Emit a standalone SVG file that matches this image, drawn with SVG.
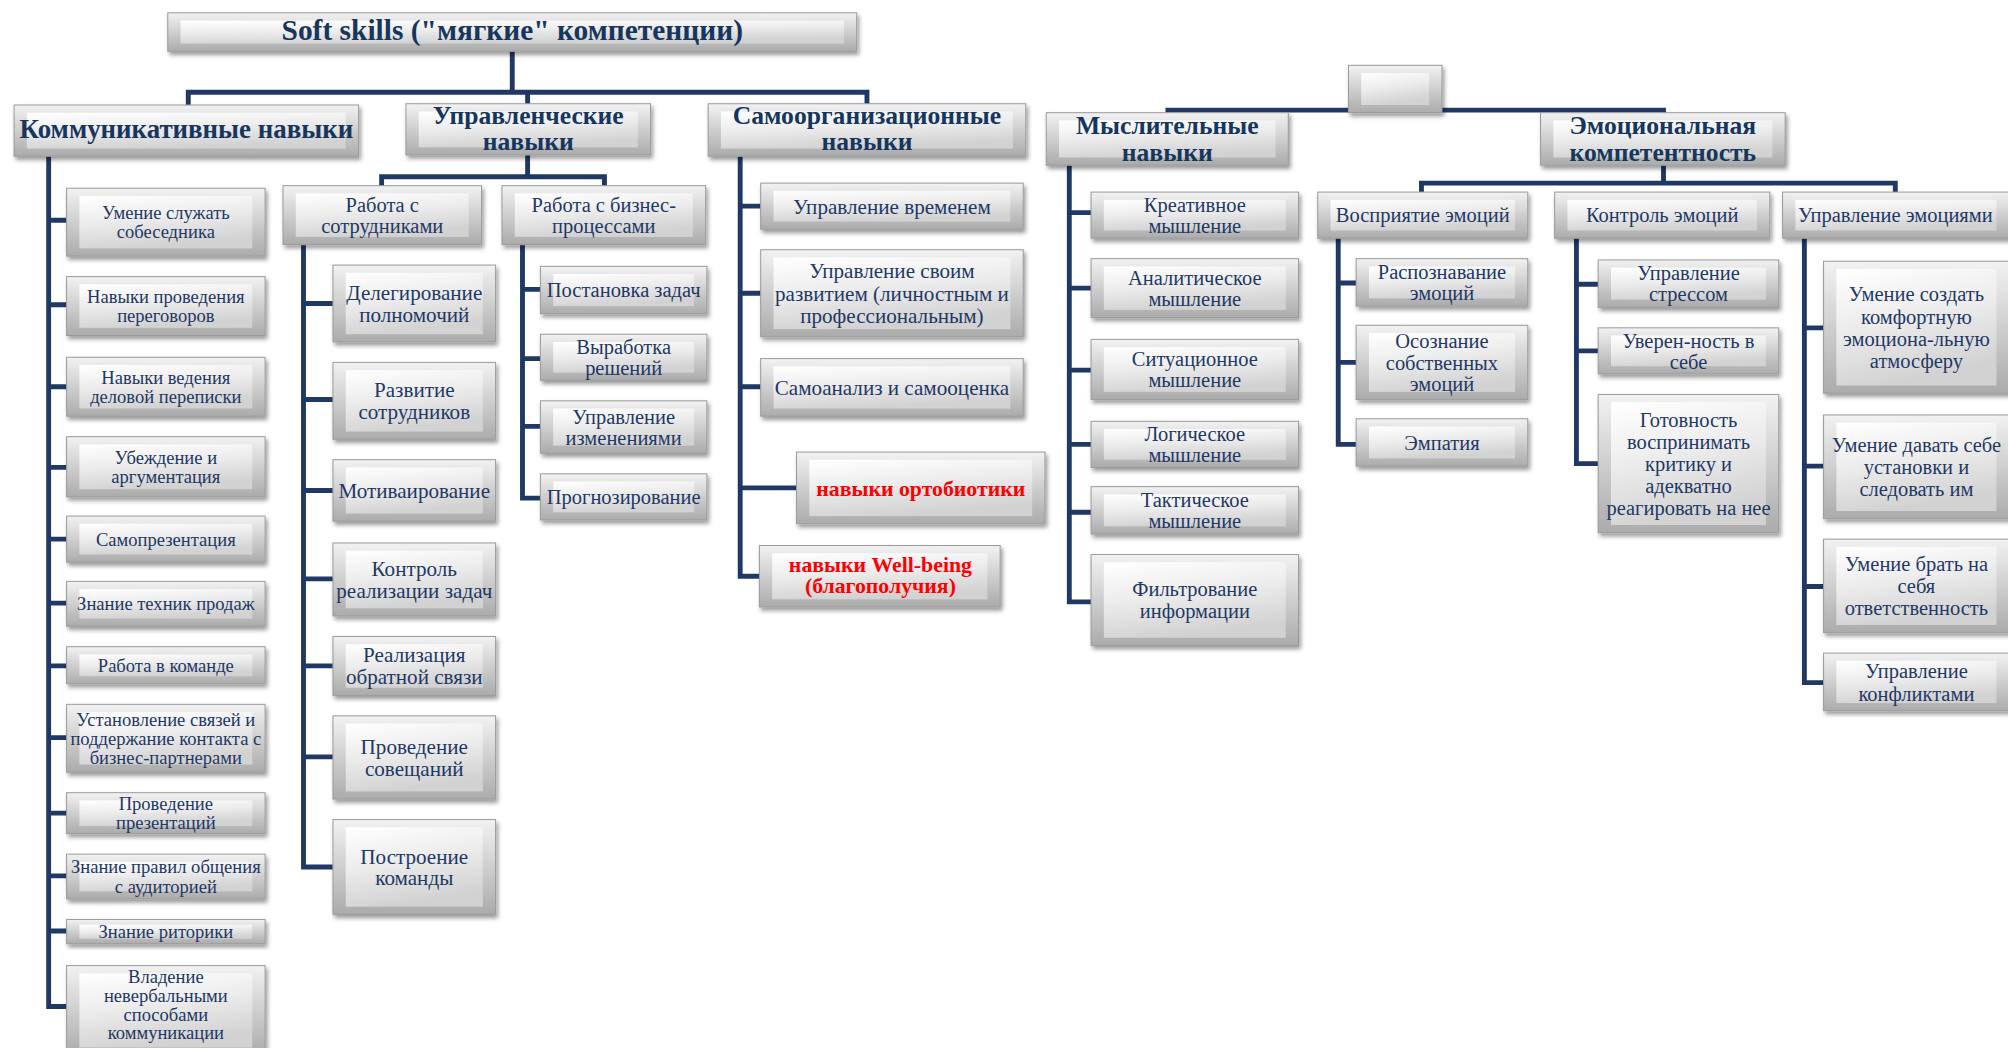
<svg xmlns="http://www.w3.org/2000/svg" width="2008" height="1048" viewBox="0 0 2008 1048">
<defs>
<filter id="sh" x="-10%" y="-15%" width="125%" height="140%"><feDropShadow dx="1.5" dy="2.5" stdDeviation="1.5" flood-color="#000" flood-opacity="0.4"/></filter>
<linearGradient id="gFrame" x1="0" y1="0" x2="0" y2="1"><stop offset="0" stop-color="#f2f2f2"/><stop offset="1" stop-color="#ababab"/></linearGradient>
<linearGradient id="gFace" x1="0" y1="0" x2="0.3" y2="1"><stop offset="0" stop-color="#ffffff"/><stop offset="0.5" stop-color="#ececec"/><stop offset="1" stop-color="#d2d2d2"/></linearGradient>
<style>
.o{fill:url(#gFrame);stroke:#9c9c9c;stroke-width:0.8;filter:url(#sh)}
.f{fill:url(#gFace)}
.c{fill:none;stroke:#1f3864;stroke-width:3.8;stroke-linejoin:miter}
text{font-family:"Liberation Serif","Times New Roman",serif;fill:#1f3864;text-anchor:middle}
.h{font-weight:bold;font-size:20px;fill:#17365d}
.ti{font-size:23px}
.k{font-size:14.5px}
.m{font-size:16px}
.n{font-size:16.5px}
.r{font-weight:bold;font-size:17px;fill:#ff0000}
</style>
</defs>
<rect x="0" y="0" width="2008" height="1048" fill="#ffffff"/>
<g transform="scale(1.2806)">
<g id="connectors">
<path class="c" d="M400,40V72 M147,84V72H677V82 M412,72V82"/>
<path class="c" d="M38,122V786H52 M38,172H52 M38,238H52 M38,302H52 M38,365H52 M38,421H52 M38,471H52 M38,520H52 M38,576H52 M38,635H52 M38,684H52 M38,727H52"/>
<path class="c" d="M412,121V138 M298,146V138H472V146"/>
<path class="c" d="M237,191V677H260 M237,237H260 M237,312H260 M237,383H260 M237,452H260 M237,520H260 M237,591H260"/>
<path class="c" d="M408,191V389H422 M408,226H422 M408,280H422 M408,333H422"/>
<path class="c" d="M578,122V450H593 M578,161H594 M578,229H594 M578,302H594 M578,381H622"/>
<path class="c" d="M912,88V86H1299V88"/>
<path class="c" d="M835,129V470H852 M835,166H852 M835,225H852 M835,289H852 M835,347H852 M835,400H852"/>
<path class="c" d="M1299,129V143 M1110,150V143H1480V150"/>
<path class="c" d="M1045,186V347H1059 M1045,221H1059 M1045,283H1059"/>
<path class="c" d="M1231,186V362H1248 M1231,222H1248 M1231,274H1248"/>
<path class="c" d="M1409,186V533H1424 M1409,256H1424 M1409,364H1424 M1409,458H1424"/>
</g>

<g id="title"><rect class="o" x="131" y="10" width="538" height="30"/><rect class="f" x="141" y="16" width="518" height="18"/><text class="h ti" x="400" y="31">Soft skills ("мягкие" компетенции)</text></g>
<g id="komm"><rect class="o" x="11" y="82" width="269" height="40"/><rect class="f" x="21" y="88" width="249" height="28"/><text class="h" style="font-size:21px" x="145.5" y="107.5">Коммуникативные навыки</text></g>
<g id="upr"><rect class="o" x="317" y="81" width="191" height="40"/><rect class="f" x="327" y="87" width="171" height="28"/><text class="h"><tspan x="412.5" y="97">Управленческие</tspan><tspan x="412.5" y="117">навыки</tspan></text></g>
<g id="samoorg"><rect class="o" x="553" y="81" width="248" height="41"/><rect class="f" x="563" y="87" width="228" height="29"/><text class="h"><tspan x="677" y="97">Самоорганизационные</tspan><tspan x="677" y="117.5">навыки</tspan></text></g>
<g id="root2"><rect class="o" x="1053" y="51" width="73" height="37"/><rect class="f" x="1063" y="57" width="53" height="25"/></g>
<g id="mysl"><rect class="o" x="817" y="88" width="189" height="41"/><rect class="f" x="827" y="94" width="169" height="29"/><text class="h"><tspan x="911.5" y="105">Мыслительные</tspan><tspan x="911.5" y="125.5">навыки</tspan></text></g>
<g id="emo"><rect class="o" x="1203" y="88" width="191" height="41"/><rect class="f" x="1213" y="94" width="171" height="29"/><text class="h"><tspan x="1298.5" y="105">Эмоциональная</tspan><tspan x="1298.5" y="125.5">компетентность</tspan></text></g>

<g id="k1"><rect class="o" x="52" y="147" width="155" height="53"/><rect class="f" x="62" y="153" width="135" height="41"/><text class="k"><tspan x="129.5" y="171.1">Умение служать</tspan><tspan x="129.5" y="186.1">собеседника</tspan></text></g>
<g id="k2"><rect class="o" x="52" y="216" width="155" height="46"/><rect class="f" x="62" y="222" width="135" height="34"/><text class="k"><tspan x="129.5" y="236.6">Навыки проведения</tspan><tspan x="129.5" y="251.6">переговоров</tspan></text></g>
<g id="k3"><rect class="o" x="52" y="279" width="155" height="46"/><rect class="f" x="62" y="285" width="135" height="34"/><text class="k"><tspan x="129.5" y="299.6">Навыки ведения</tspan><tspan x="129.5" y="314.6">деловой переписки</tspan></text></g>
<g id="k4"><rect class="o" x="52" y="341" width="155" height="47"/><rect class="f" x="62" y="347" width="135" height="35"/><text class="k"><tspan x="129.5" y="362.1">Убеждение и</tspan><tspan x="129.5" y="377.1">аргументация</tspan></text></g>
<g id="k5"><rect class="o" x="52" y="403" width="155" height="36"/><rect class="f" x="62" y="409" width="135" height="24"/><text class="k" x="129.5" y="426.1">Самопрезентация</text></g>
<g id="k6"><rect class="o" x="52" y="454" width="155" height="35"/><rect class="f" x="62" y="460" width="135" height="23"/><text class="k" x="129.5" y="476.6">Знание техник продаж</text></g>
<g id="k7"><rect class="o" x="52" y="505" width="155" height="29"/><rect class="f" x="62" y="511" width="135" height="17"/><text class="k" x="129.5" y="524.6">Работа в команде</text></g>
<g id="k8"><rect class="o" x="52" y="550" width="155" height="53"/><rect class="f" x="62" y="556" width="135" height="41"/><text class="k"><tspan x="129.5" y="566.6">Установление связей и</tspan><tspan x="129.5" y="581.6">поддержание контакта с</tspan><tspan x="129.5" y="596.6">бизнес-партнерами</tspan></text></g>
<g id="k9"><rect class="o" x="52" y="619" width="155" height="32"/><rect class="f" x="62" y="625" width="135" height="20"/><text class="k"><tspan x="129.5" y="632.6">Проведение</tspan><tspan x="129.5" y="647.6">презентаций</tspan></text></g>
<g id="k10"><rect class="o" x="52" y="667" width="155" height="35"/><rect class="f" x="62" y="673" width="135" height="23"/><text class="k"><tspan x="129.5" y="682.1">Знание правил общения</tspan><tspan x="129.5" y="697.1">с аудиторией</tspan></text></g>
<g id="k11"><rect class="o" x="52" y="718" width="155" height="19"/><rect class="f" x="62" y="722" width="135" height="11"/><text class="k" x="129.5" y="732.6">Знание риторики</text></g>
<g id="k12"><rect class="o" x="52" y="754" width="155" height="70"/><rect class="f" x="62" y="760" width="135" height="58"/><text class="k"><tspan x="129.5" y="767.8">Владение</tspan><tspan x="129.5" y="782.2">невербальными</tspan><tspan x="129.5" y="797">способами</tspan><tspan x="129.5" y="811.6">коммуникации</tspan></text></g>

<g id="sotr"><rect class="o" x="221" y="145" width="155" height="46"/><rect class="f" x="231" y="151" width="135" height="34"/><text class="m"><tspan x="298.5" y="165.5">Работа с</tspan><tspan x="298.5" y="182">сотрудниками</tspan></text></g>
<g id="biz"><rect class="o" x="392" y="145" width="159" height="46"/><rect class="f" x="402" y="151" width="139" height="34"/><text class="m"><tspan x="471.5" y="165.5">Работа с бизнес-</tspan><tspan x="471.5" y="182">процессами</tspan></text></g>

<g id="s1"><rect class="o" x="260" y="207" width="127" height="60"/><rect class="f" x="270" y="213" width="107" height="48"/><text class="n"><tspan x="323.5" y="234.3">Делегирование</tspan><tspan x="323.5" y="251.3">полномочий</tspan></text></g>
<g id="s2"><rect class="o" x="260" y="283" width="127" height="60"/><rect class="f" x="270" y="289" width="107" height="48"/><text class="n"><tspan x="323.5" y="310.3">Развитие</tspan><tspan x="323.5" y="327.3">сотрудников</tspan></text></g>
<g id="s3"><rect class="o" x="260" y="359" width="127" height="48"/><rect class="f" x="270" y="365" width="107" height="36"/><text class="n" x="323.5" y="388.8">Мотиваирование</text></g>
<g id="s4"><rect class="o" x="260" y="424" width="127" height="57"/><rect class="f" x="270" y="430" width="107" height="45"/><text class="n"><tspan x="323.5" y="449.8">Контроль</tspan><tspan x="323.5" y="466.8">реализации задач</tspan></text></g>
<g id="s5"><rect class="o" x="260" y="497" width="127" height="46"/><rect class="f" x="270" y="503" width="107" height="34"/><text class="n"><tspan x="323.5" y="517.3">Реализация</tspan><tspan x="323.5" y="534.3">обратной связи</tspan></text></g>
<g id="s6"><rect class="o" x="260" y="559" width="127" height="65"/><rect class="f" x="270" y="565" width="107" height="53"/><text class="n"><tspan x="323.5" y="588.8">Проведение</tspan><tspan x="323.5" y="605.8">совещаний</tspan></text></g>
<g id="s7"><rect class="o" x="260" y="640" width="127" height="74"/><rect class="f" x="270" y="646" width="107" height="62"/><text class="n"><tspan x="323.5" y="674.3">Построение</tspan><tspan x="323.5" y="691.3">команды</tspan></text></g>

<g id="b1"><rect class="o" x="422" y="208" width="130" height="37"/><rect class="f" x="432" y="214" width="110" height="25"/><text class="m" x="487" y="232.1">Постановка задач</text></g>
<g id="b2"><rect class="o" x="422" y="261" width="130" height="36"/><rect class="f" x="432" y="267" width="110" height="24"/><text class="m"><tspan x="487" y="276.3">Выработка</tspan><tspan x="487" y="292.8">решений</tspan></text></g>
<g id="b3"><rect class="o" x="422" y="313" width="130" height="41"/><rect class="f" x="432" y="319" width="110" height="29"/><text class="m"><tspan x="487" y="330.9">Управление</tspan><tspan x="487" y="347.4">изменениями</tspan></text></g>
<g id="b4"><rect class="o" x="422" y="370" width="130" height="36"/><rect class="f" x="432" y="376" width="110" height="24"/><text class="m" x="487" y="393.6">Прогнозирование</text></g>

<g id="o1"><rect class="o" x="594" y="143" width="205" height="36"/><rect class="f" x="604" y="149" width="185" height="24"/><text class="n" x="696.5" y="166.8">Управление временем</text></g>
<g id="o2"><rect class="o" x="594" y="195" width="205" height="68"/><rect class="f" x="604" y="201" width="185" height="56"/><text class="n"><tspan x="696.5" y="217.4">Управление своим</tspan><tspan x="696.5" y="234.8">развитием (личностным и</tspan><tspan x="696.5" y="252.2">профессиональным)</tspan></text></g>
<g id="o3"><rect class="o" x="594" y="280" width="205" height="45"/><rect class="f" x="604" y="286" width="185" height="33"/><text class="n" x="696.5" y="308.3">Самоанализ и самооценка</text></g>
<g id="o4"><rect class="o" x="622" y="353" width="194" height="56"/><rect class="f" x="632" y="359" width="174" height="44"/><text class="r" x="719" y="387">навыки ортобиотики</text></g>
<g id="o5"><rect class="o" x="593" y="426" width="188" height="48"/><rect class="f" x="603" y="432" width="168" height="36"/><text class="r"><tspan x="687.5" y="446.5">навыки Well-being</tspan><tspan x="687.5" y="463">(благополучия)</tspan></text></g>

<g id="m1"><rect class="o" x="852" y="150" width="162" height="36"/><rect class="f" x="862" y="156" width="142" height="24"/><text class="m"><tspan x="933" y="165.5">Креативное</tspan><tspan x="933" y="182.2">мышление</tspan></text></g>
<g id="m2"><rect class="o" x="852" y="202" width="162" height="46"/><rect class="f" x="862" y="208" width="142" height="34"/><text class="m"><tspan x="933" y="222.2">Аналитическое</tspan><tspan x="933" y="238.9">мышление</tspan></text></g>
<g id="m3"><rect class="o" x="852" y="265" width="162" height="47"/><rect class="f" x="862" y="271" width="142" height="35"/><text class="m"><tspan x="933" y="285.7">Ситуационное</tspan><tspan x="933" y="302.4">мышление</tspan></text></g>
<g id="m4"><rect class="o" x="852" y="329" width="162" height="36"/><rect class="f" x="862" y="335" width="142" height="24"/><text class="m"><tspan x="933" y="344.2">Логическое</tspan><tspan x="933" y="360.9">мышление</tspan></text></g>
<g id="m5"><rect class="o" x="852" y="380" width="162" height="37"/><rect class="f" x="862" y="386" width="142" height="25"/><text class="m"><tspan x="933" y="395.7">Тактическое</tspan><tspan x="933" y="412.4">мышление</tspan></text></g>
<g id="m6"><rect class="o" x="852" y="433" width="162" height="71"/><rect class="f" x="862" y="439" width="142" height="59"/><text class="m"><tspan x="933" y="465.7">Фильтрование</tspan><tspan x="933" y="482.4">информации</tspan></text></g>

<g id="e1"><rect class="o" x="1029" y="150" width="164" height="36"/><rect class="f" x="1039" y="156" width="144" height="24"/><text class="m" x="1111" y="173.6">Восприятие эмоций</text></g>
<g id="e2"><rect class="o" x="1214" y="150" width="168" height="36"/><rect class="f" x="1224" y="156" width="148" height="24"/><text class="m" x="1298" y="173.6">Контроль эмоций</text></g>
<g id="e3"><rect class="o" x="1392" y="150" width="177" height="36"/><rect class="f" x="1402" y="156" width="157" height="24"/><text class="m" x="1480" y="173.6">Управление эмоциями</text></g>

<g id="e1a"><rect class="o" x="1059" y="202" width="134" height="37"/><rect class="f" x="1069" y="208" width="114" height="25"/><text class="m"><tspan x="1126" y="217.9">Распознавание</tspan><tspan x="1126" y="234.4">эмоций</tspan></text></g>
<g id="e1b"><rect class="o" x="1059" y="254" width="134" height="58"/><rect class="f" x="1069" y="260" width="114" height="46"/><text class="m"><tspan x="1126" y="272.1">Осознание</tspan><tspan x="1126" y="288.6">собственных</tspan><tspan x="1126" y="305.1">эмоций</tspan></text></g>
<g id="e1c"><rect class="o" x="1059" y="327" width="134" height="37"/><rect class="f" x="1069" y="333" width="114" height="25"/><text class="m" x="1126" y="351.1">Эмпатия</text></g>

<g id="e2a"><rect class="o" x="1248" y="203" width="141" height="37"/><rect class="f" x="1258" y="209" width="121" height="25"/><text class="m"><tspan x="1318.5" y="218.9">Управление</tspan><tspan x="1318.5" y="235.4">стрессом</tspan></text></g>
<g id="e2b"><rect class="o" x="1248" y="256" width="141" height="36"/><rect class="f" x="1258" y="262" width="121" height="24"/><text class="m"><tspan x="1318.5" y="271.4">Уверен-ность в</tspan><tspan x="1318.5" y="287.9">себе</tspan></text></g>
<g id="e2c"><rect class="o" x="1248" y="308" width="141" height="108"/><rect class="f" x="1258" y="314" width="121" height="96"/><text class="m"><tspan x="1318.5" y="333.2">Готовность</tspan><tspan x="1318.5" y="350.4">воспринимать</tspan><tspan x="1318.5" y="367.6">критику и</tspan><tspan x="1318.5" y="384.8">адекватно</tspan><tspan x="1318.5" y="402">реагировать на нее</tspan></text></g>

<g id="e3a"><rect class="o" x="1424" y="204" width="145" height="103"/><rect class="f" x="1434" y="210" width="125" height="91"/><text class="m"><tspan x="1496.5" y="235.4">Умение создать</tspan><tspan x="1496.5" y="252.7">комфортную</tspan><tspan x="1496.5" y="270">эмоциона-льную</tspan><tspan x="1496.5" y="287.3">атмосферу</tspan></text></g>
<g id="e3b"><rect class="o" x="1424" y="324" width="145" height="81"/><rect class="f" x="1434" y="330" width="125" height="69"/><text class="m"><tspan x="1496.5" y="352.8">Умение давать себе</tspan><tspan x="1496.5" y="370.1">установки и</tspan><tspan x="1496.5" y="387.4">следовать им</tspan></text></g>
<g id="e3c"><rect class="o" x="1424" y="421" width="145" height="73"/><rect class="f" x="1434" y="427" width="125" height="61"/><text class="m"><tspan x="1496.5" y="445.8">Умение брать на</tspan><tspan x="1496.5" y="463.1">себя</tspan><tspan x="1496.5" y="480.4">ответственность</tspan></text></g>
<g id="e3d"><rect class="o" x="1424" y="510" width="145" height="45"/><rect class="f" x="1434" y="516" width="125" height="33"/><text class="m"><tspan x="1496.5" y="529.8">Управление</tspan><tspan x="1496.5" y="547.1">конфликтами</tspan></text></g>
</g>
</svg>
